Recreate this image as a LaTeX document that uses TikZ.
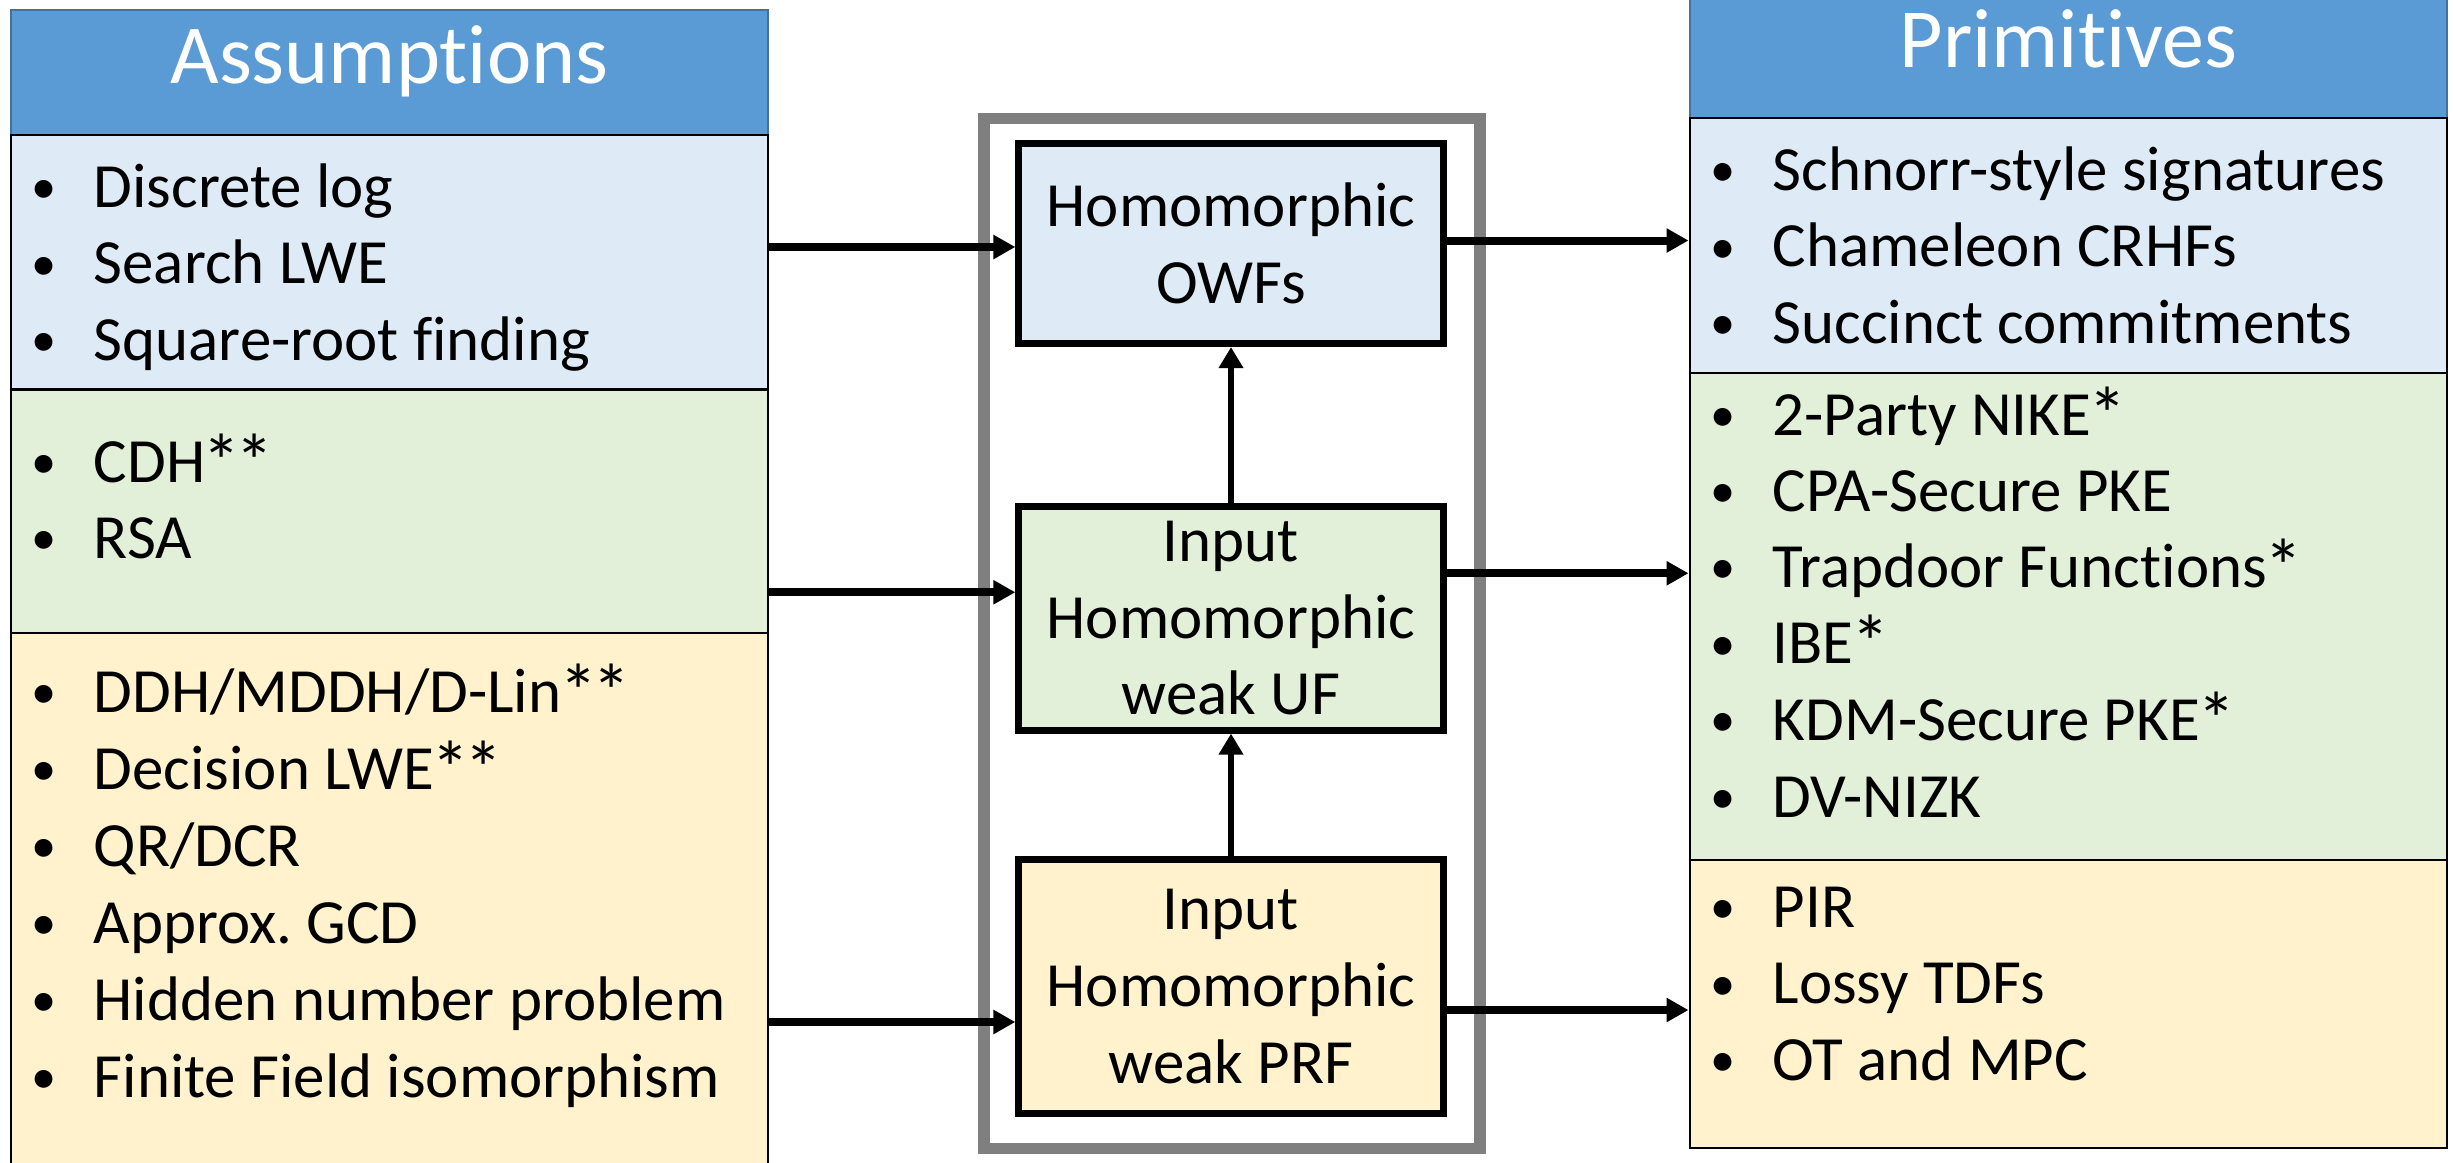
\documentclass[tikz,border=0pt]{standalone}
\usepackage{fontspec}
\setmainfont{Carlito}[RawFeature={-liga,-calt,-dlig}]
\usetikzlibrary{arrows.meta,calc}
\frenchspacing

\definecolor{hdrblue}{HTML}{5B9BD5}
\definecolor{hdredge}{HTML}{41719C}
\definecolor{lblue}{HTML}{DEEBF7}
\definecolor{lgreen}{HTML}{E2F0D9}
\definecolor{lyellow}{HTML}{FFF2CC}
\definecolor{framegray}{HTML}{7F7F7F}

% text sizes (1 unit = 0.01cm)
\newcommand\itemsz{\fontsize{17.9pt}{21.8pt}\selectfont}
\newcommand\headsz{\fontsize{23.9pt}{28pt}\selectfont}
% bullet set in a fixed-width slot before each entry
\newcommand\blt{\makebox[1cm][c]{\raisebox{0.05em}{\scalebox{0.8}{\textbullet}}}}
% footnote star, a little larger and tighter than the plain glyph
\newcommand\st{\kern-0.04em\raisebox{-0.1em}{\scalebox{1.22}{*}}\kern-0.04em}

\begin{document}
\begin{tikzpicture}[x=0.01cm,y=-0.01cm,
  header/.style={rectangle, fill=hdrblue, draw=hdredge, line width=0.02cm,
    text=white, font=\headsz, text height=0.632em, text depth=0pt, inner sep=0pt},
  section/.style={rectangle, draw=black, line width=0.025cm, inner sep=0pt},
  entry/.style={anchor=base west, inner sep=0pt, font=\itemsz},
  stage/.style={rectangle, draw=black, line width=0.07cm, align=center,
    font=\itemsz, minimum width=4.24cm, inner sep=0pt},
  harr/.style={line width=0.08cm, -{Triangle[length=0.22cm,width=0.23cm]}},
  varr/.style={line width=0.065cm, -{Triangle[length=0.21cm,width=0.235cm]}}
]
\useasboundingbox (0,0) rectangle (2453,1162);
\clip (0,0) rectangle (2453,1162);

% ---------------- Assumptions column ----------------
\node[header, minimum width=7.57cm, minimum height=1.25cm] (hdrL) at (389.5,72.5) {Assumptions};
\node[section, fill=lblue, minimum width=7.57cm, minimum height=2.545cm] (blueL) at (389.5,262.25) {};
\node[section, fill=lgreen, minimum width=7.57cm, minimum height=2.435cm] (greenL) at (389.5,511.25) {};
\node[section, fill=lyellow, minimum width=7.57cm, minimum height=5.67cm] (yellowL) at (389.5,916.5) {};

\node[entry] (a1) at (-7,207) {\blt Discrete log};
\node[entry] (a2) at (-7,283.5) {\blt Search LWE};
\node[entry] (a3) at (-7,360) {\blt Square-root finding};

\node[entry] (a4) at (-7,482) {\blt CDH\st\st};
\node[entry] (a5) at (-7,558) {\blt RSA};

\node[entry] (a6) at (-7,712) {\blt DDH/MDDH/D-Lin\st\st};
\node[entry] (a7) at (-7,789) {\blt Decision LWE\st\st};
\node[entry] (a8) at (-7,866) {\blt QR/DCR};
\node[entry] (a9) at (-7,943) {\blt Approx. GCD};
\node[entry] (a10) at (-7,1020) {\blt Hidden number problem};
\node[entry] (a11) at (-7,1097) {\blt Finite Field isomorphism};

% ---------------- Primitives column ----------------
\node[header, minimum width=7.57cm, minimum height=1.23cm] (hdrR) at (2068.5,56.5) {Primitives};
\node[section, fill=lblue, minimum width=7.57cm, minimum height=2.55cm] (blueR) at (2068.5,245.5) {};
\node[section, fill=lgreen, minimum width=7.57cm, minimum height=4.87cm] (greenR) at (2068.5,616.5) {};
\node[section, fill=lyellow, minimum width=7.57cm, minimum height=2.88cm] (yellowR) at (2068.5,1004) {};

\node[entry] (p1) at (1672,190) {\blt Schnorr-style signatures};
\node[entry] (p2) at (1672,266.5) {\blt Chameleon CRHFs};
\node[entry] (p3) at (1672,343) {\blt Succinct commitments};

\node[entry] (p4) at (1672,435) {\blt 2-Party NIKE\st};
\node[entry] (p5) at (1672,511) {\blt CPA-Secure PKE};
\node[entry] (p6) at (1672,587) {\blt Trapdoor Functions\st};
\node[entry] (p7) at (1672,663.5) {\blt IBE\st};
\node[entry] (p8) at (1672,740) {\blt KDM-Secure PKE\st};
\node[entry] (p9) at (1672,817) {\blt DV-NIZK};

\node[entry] (p10) at (1672,927) {\blt PIR};
\node[entry] (p11) at (1672,1003.5) {\blt Lossy TDFs};
\node[entry] (p12) at (1672,1080) {\blt OT and MPC};

% ---------------- middle chain ----------------
\node[rectangle, draw=framegray, line width=0.115cm, minimum width=4.96cm,
  minimum height=10.29cm] (frame) at (1232,633.5) {};

\node[stage, fill=lblue, minimum height=2cm] (owf) at (1231,243.5)
  {Homomorphic\\OWFs};
\node[stage, fill=lgreen, minimum height=2.235cm] (uf) at (1231,618.25)
  {Input\\Homomorphic\\weak UF};
\node[stage, fill=lyellow, minimum height=2.53cm] (prf) at (1231,986.5)
  {Input\\Homomorphic\\weak PRF};

\draw[varr] (uf.north) -- (owf.south);
\draw[varr] (prf.north) -- (uf.south);

% inputs from the assumption groups
\coordinate (inA) at ($(owf.west)+(0,3.5)$);
\coordinate (inB) at ($(uf.west)+(0,-26)$);
\coordinate (inC) at ($(prf.west)+(0,35.5)$);
\draw[harr] (blueL.east |- inA) -- (inA);
\draw[harr] (greenL.east |- inB) -- (inB);
\draw[harr] (yellowL.east |- inC) -- (inC);

% outputs to the primitive groups
\coordinate (outA) at ($(owf.east)+(0,-3)$);
\coordinate (outB) at ($(uf.east)+(0,-45)$);
\coordinate (outC) at ($(prf.east)+(0,23.5)$);
\draw[harr] (outA) -- (outA -| blueR.west);
\draw[harr] (outB) -- (outB -| greenR.west);
\draw[harr] (outC) -- (outC -| yellowR.west);
\end{tikzpicture}
\end{document}
